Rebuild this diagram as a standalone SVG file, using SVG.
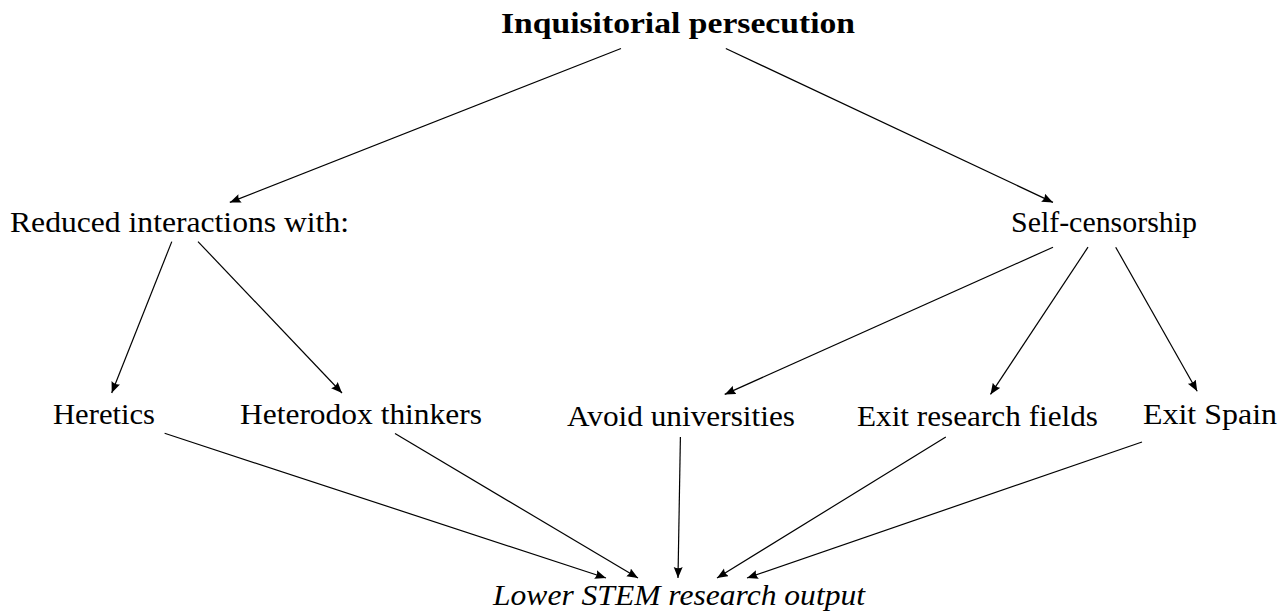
<svg xmlns="http://www.w3.org/2000/svg" width="1280" height="613" viewBox="0 0 1280 613">
<style>
text { font-family: "Liberation Serif", "DejaVu Serif", serif; font-size: 29px; fill: #000; }
.b { font-weight: bold; }
.i { font-style: italic; }
.e { stroke: #000; stroke-width: 1.2; fill: none; marker-end: url(#ah); }
</style>
<defs>
<marker id="ah" markerUnits="userSpaceOnUse" markerWidth="12" markerHeight="10" refX="11" refY="4.5" orient="auto">
<path d="M0,0 L11,4.5 L0,9 Q2.5,4.5 0,0 z" fill="#000"/>
</marker>
</defs>
<rect width="1280" height="613" fill="#fff"/>
<g id="connectors">
<line class="e" x1="621" y1="48.5" x2="229.8" y2="202.4"/>
<line class="e" x1="725.8" y1="48.5" x2="1053" y2="202.4"/>
<line class="e" x1="171.8" y1="241.6" x2="111.7" y2="393"/>
<line class="e" x1="198" y1="241.6" x2="342" y2="393"/>
<line class="e" x1="1053" y1="247.2" x2="724.7" y2="394.4"/>
<line class="e" x1="1088" y1="247.2" x2="990.5" y2="394.4"/>
<line class="e" x1="1115.7" y1="247.2" x2="1197.2" y2="391.2"/>
<line class="e" x1="164.6" y1="433.3" x2="606" y2="578"/>
<line class="e" x1="395" y1="433.6" x2="638" y2="578"/>
<line class="e" x1="680.4" y1="437" x2="678" y2="578"/>
<line class="e" x1="945.8" y1="437" x2="717" y2="578"/>
<line class="e" x1="1142" y1="442" x2="747" y2="578"/>
</g>
<g id="n-title"><text class="b" x="501" y="33" textLength="354" lengthAdjust="spacingAndGlyphs">Inquisitorial persecution</text></g>
<g id="n-reduced"><text x="10" y="232" textLength="339" lengthAdjust="spacingAndGlyphs">Reduced interactions with:</text></g>
<g id="n-self"><text x="1011" y="232" textLength="186" lengthAdjust="spacingAndGlyphs">Self-censorship</text></g>
<g id="n-heretics"><text x="53" y="424" textLength="102" lengthAdjust="spacingAndGlyphs">Heretics</text></g>
<g id="n-heterodox"><text x="240" y="424" textLength="242" lengthAdjust="spacingAndGlyphs">Heterodox thinkers</text></g>
<g id="n-avoid"><text x="567" y="426" textLength="228" lengthAdjust="spacingAndGlyphs">Avoid universities</text></g>
<g id="n-exitfields"><text x="857" y="426" textLength="241" lengthAdjust="spacingAndGlyphs">Exit research fields</text></g>
<g id="n-exitspain"><text x="1143" y="424" textLength="134" lengthAdjust="spacingAndGlyphs">Exit Spain</text></g>
<g id="n-lower"><text class="i" x="493" y="605" textLength="372" lengthAdjust="spacingAndGlyphs">Lower STEM research output</text></g>
</svg>
